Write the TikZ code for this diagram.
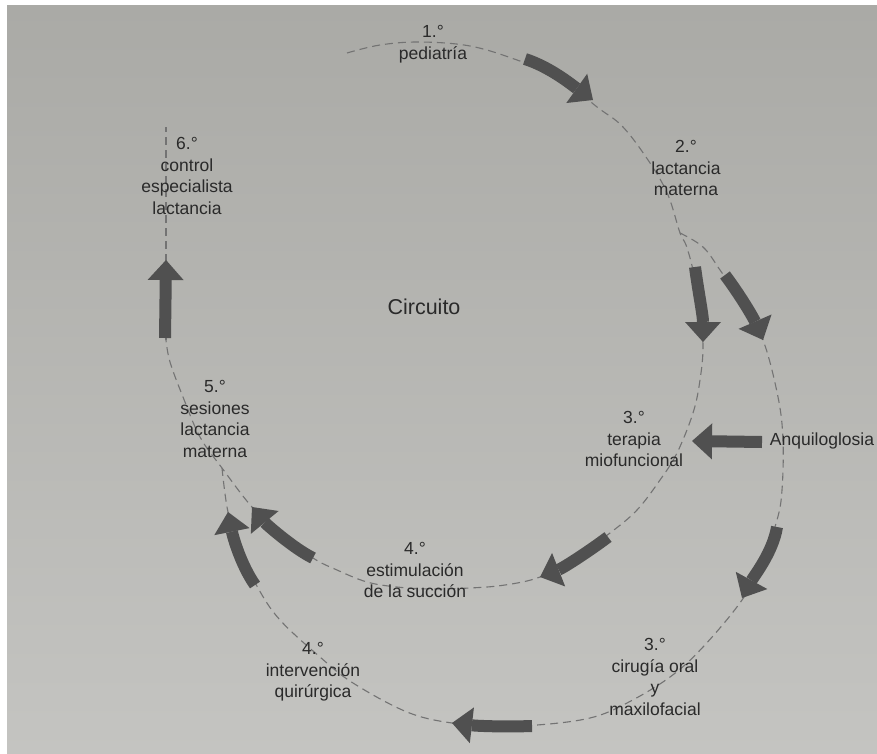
\documentclass[tikz,border=0pt]{standalone}
\usepackage{fontspec}
\setmainfont{Liberation Sans}
\usetikzlibrary{arrows.meta}
\definecolor{bgtop}{RGB}{170,170,166}
\definecolor{bgbot}{RGB}{196,196,193}
\definecolor{arrowc}{RGB}{80,80,80}
\definecolor{textc}{RGB}{42,42,42}
\definecolor{dashc}{RGB}{115,115,115}
\begin{document}
\begin{tikzpicture}[x=1pt,y=-1pt,
  lbl/.style={align=center, text=textc, font=\fontsize{17.5}{21.5}\selectfont, inner sep=0pt},
  dashline/.style={draw=dashc, line width=1.1pt, dash pattern=on 8pt off 5pt},
  bigarrow/.style={draw=arrowc, line width=12pt, -{Triangle[width=36pt,length=20pt,line width=0pt]}}
]
\useasboundingbox (0,0) rectangle (877,754);
\fill[white] (0,0) rectangle (877,754);
\shade[top color=bgtop, bottom color=bgbot] (7,6) rectangle (877,754);

% dashed circuits
\draw[dashline] plot[smooth,tension=0.6] coordinates {(347,53) (380,45) (420,42) (470,46) (517,60) (560,78) (597,107) (623,127) (650,163) (668,195) (680,233) (686,245) (693,270) (699,305) (703,345) (700,380) (693,413) (677,453) (660,480) (637,510) (610,533) (575,558) (540,577) (505,585) (470,588) (430,589) (397,587) (367,582) (337,570) (313,558) (280,533) (252,507) (222,468) (200,437) (183,397) (170,362) (166,340)};
\draw[dashline] (166,340) -- (166,127);
\draw[dashline] plot[smooth,tension=0.6] coordinates {(680,233) (703,247) (720,270) (742,303) (763,340) (778,397) (783,440) (782,490) (777,520) (762,562) (742,600) (703,647) (670,677) (627,703) (590,718) (537,725) (495,725) (452,723) (407,712) (353,683) (320,657) (280,620) (258,588) (240,550) (228,512) (222,468)};

% labels
\node[lbl] (n1) at (433,44) {1.°\\pediatría};
\node[lbl] (n2) at (686,168) {2.°\\lactancia\\materna};
\node[lbl] (n6) at (187,176) {6.°\\control\\especialista\\lactancia};
\node[lbl, font=\fontsize{21.5}{25}\selectfont] (circ) at (424,307) {Circuito};
\node[lbl] (n5) at (215,419) {5.°\\sesiones\\lactancia\\materna};
\node[lbl] (n3a) at (634,439) {3.°\\terapia\\miofuncional};
\node[lbl] (anq) at (822,441) {Anquiloglosia};
\node[lbl] (n4a) at (415,570) {4.°\\estimulación\\de la succión};
\node[lbl] (n3b) at (655,677) {3.°\\cirugía oral\\y\\maxilofacial};
\node[lbl] (n4b) at (313,672) {4.°\\intervención\\quirúrgica};

% arrow end points
\coordinate (a1s) at (525,59);  \coordinate (a1t) at (593,100);
\coordinate (a2s) at (695,267); \coordinate (a2t) at (703,342);
\coordinate (a3s) at (725,275); \coordinate (a3t) at (763,340);
\coordinate (a4s) at (762,442); \coordinate (a4t) at (692,441);
\coordinate (a5s) at (777,527); \coordinate (a5t) at (742,598);
\coordinate (a6s) at (608,537); \coordinate (a6t) at (540,577);
\coordinate (a7s) at (532,726); \coordinate (a7t) at (452,723);
\coordinate (a8s) at (255,585); \coordinate (a8t) at (228,512);
\coordinate (a9s) at (313,558); \coordinate (a9t) at (252,507);
\coordinate (a10s) at (165,338); \coordinate (a10t) at (166,260);

\draw[bigarrow] (a1s) .. controls (550,67) and (572,85) .. (a1t);
\draw[bigarrow] (a2s) .. controls (698,290) and (703,315) .. (a2t);
\draw[bigarrow] (a3s) .. controls (740,295) and (753,317) .. (a3t);
\draw[bigarrow] (a4s) -- (a4t);
\draw[bigarrow] (a5s) .. controls (773,552) and (754,576) .. (a5t);
\draw[bigarrow] (a6s) .. controls (588,552) and (563,568) .. (a6t);
\draw[bigarrow] (a7s) .. controls (505,727) and (478,726) .. (a7t);
\draw[bigarrow] (a8s) .. controls (241,565) and (233,537) .. (a8t);
\draw[bigarrow] (a9s) .. controls (293,548) and (266,524) .. (a9t);
\draw[bigarrow] (a10s) -- (a10t);
\end{tikzpicture}
\end{document}
